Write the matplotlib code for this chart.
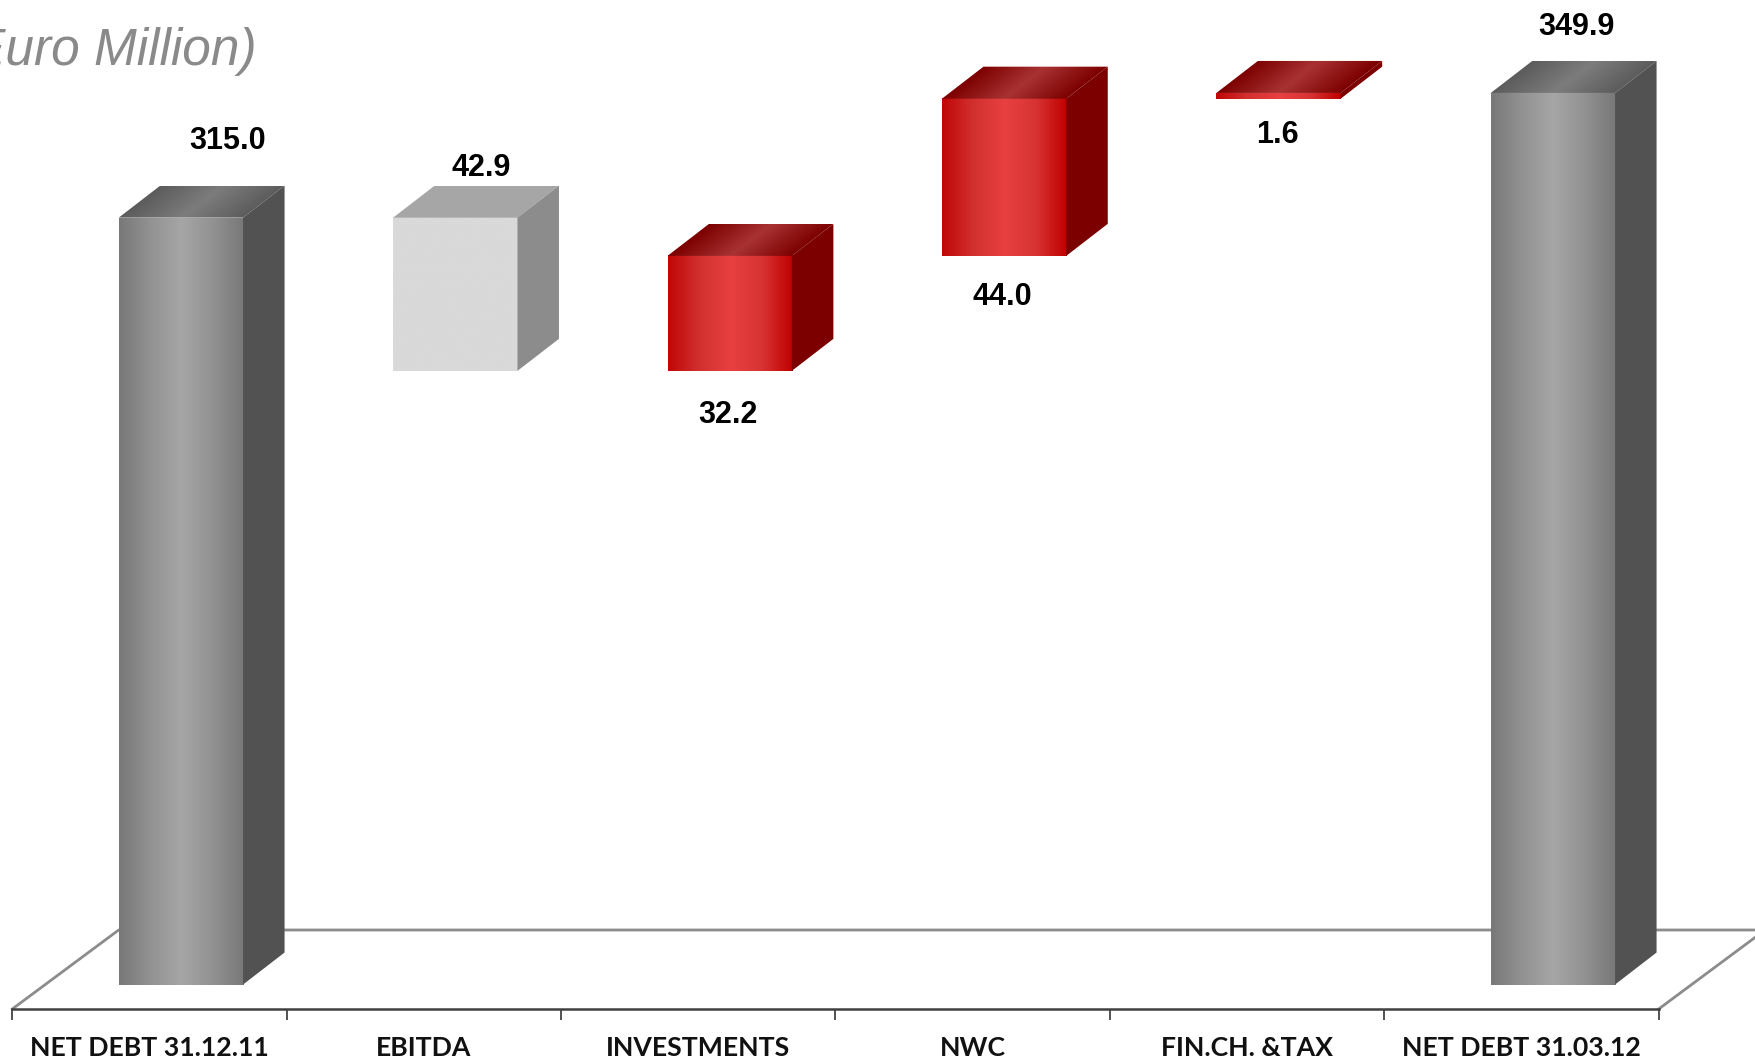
import numpy as np
import matplotlib
matplotlib.use("Agg")
import matplotlib.pyplot as plt
from matplotlib.colors import LinearSegmentedColormap
from matplotlib.patches import Polygon

categories = ["NET DEBT 31.12.11", "EBITDA", "INVESTMENTS", "NWC", "FIN.CH. &TAX", "NET DEBT 31.03.12"]
values = [315.0, 42.9, 32.2, 44.0, 1.6, 349.9]
kinds = ["total", "down", "up", "up", "up", "total"]
value_labels = ["315.0", "42.9", "32.2", "44.0", "1.6", "349.9"]

# axis range and 3d look
base = 100.3
fig_w, fig_h = 1756, 1062
ax_left, ax_right, ax_bottom = 12.3, 1658.7, 1009
px_per_cat = (ax_right - ax_left) / 6
px_per_unit = 3.572
ymin = 100 - (ax_bottom - 985.6) / px_per_unit
ymax = ymin + ax_bottom / px_per_unit
bar_off = 0.388
bar_w = 0.453
depth_x = 41.5 / px_per_cat
depth_y = 32 / px_per_unit
floor_x = 106.4 / px_per_cat
floor_y = 79 / px_per_unit

# label offset from the middle of the front face, pixels
label_dx = [47, 26, -2, -2, -1, 24]
label_dy = [77, 50, -44, -41, -36, 66]

grey_front = LinearSegmentedColormap.from_list("gf", ["#787878", "#929292", "#a6a6a6", "#929292", "#787878"])
grey_top = LinearSegmentedColormap.from_list("gt", ["#5c5c5c", "#7c7c7c", "#5c5c5c"])
red_front = LinearSegmentedColormap.from_list("rf", ["#c00606", "#d23030", "#e84040", "#d83434", "#c00000"])
red_top = LinearSegmentedColormap.from_list("rt", ["#7d0000", "#a83232", "#7d0000"])
light_front = LinearSegmentedColormap.from_list("lf", ["#d9d9d9", "#d9d9d9"])
light_top = LinearSegmentedColormap.from_list("lt", ["#a6a6a6", "#a6a6a6"])
styles = {
    "total": (grey_front, grey_top, "#525252"),
    "down": (light_front, light_top, "#8c8c8c"),
    "up": (red_front, red_top, "#7d0000"),
}

plt.rcParams["font.family"] = ["Liberation Sans", "DejaVu Sans"]
fig = plt.figure(figsize=(fig_w / 100, fig_h / 100), dpi=100)
ax = fig.add_axes([ax_left / fig_w, 1 - ax_bottom / fig_h, (ax_right - ax_left) / fig_w, ax_bottom / fig_h])
ax.patch.set_alpha(0)


def front_face(x0, x1, y0, y1, cmap):
    ramp = np.linspace(0, 1, 256).reshape(1, -1)
    ax.imshow(ramp, cmap=cmap, extent=[x0, x1, y0, y1], aspect="auto", zorder=3, interpolation="bilinear")


def top_face(x0, x1, y0, cmap):
    # gradient follows the shear of the top face
    corners = [(x0, y0), (x1, y0), (x1 + depth_x, y0 + depth_y), (x0 + depth_x, y0 + depth_y)]
    xs = np.linspace(x0, x1 + depth_x, 300)
    ts = np.linspace(1, 0, 60)
    xx, tt = np.meshgrid(xs, ts)
    shade = np.clip((xx - x0 - depth_x * tt) / (x1 - x0), 0, 1)
    im = ax.imshow(shade, cmap=cmap, vmin=0, vmax=1, extent=[x0, x1 + depth_x, y0, y0 + depth_y],
                   aspect="auto", zorder=3, interpolation="bilinear")
    poly = Polygon(corners, transform=ax.transData, facecolor="none", edgecolor="none")
    ax.add_patch(poly)
    im.set_clip_path(poly)


# floor
floor_top = ymin + floor_y
ax.plot([0, floor_x, 6 + floor_x], [ymin, floor_top, floor_top], color="#8c8c8c", lw=2, clip_on=False, zorder=1)
ax.plot([6, 6 + floor_x], [ymin, floor_top], color="#8c8c8c", lw=2, clip_on=False, zorder=1)

level = 0
for i, (val, kind) in enumerate(zip(values, kinds)):
    if kind == "total":
        low, high = base, val
        level = val
    elif kind == "down":
        low, high = level - val, level
        level = low
    else:
        low, high = level, level + val
        level = high

    front, top, side = styles[kind]
    x0 = i + bar_off
    x1 = x0 + bar_w
    front_face(x0, x1, low, high, front)
    top_face(x0, x1, high, top)
    ax.add_patch(Polygon([(x1, low), (x1 + depth_x, low + depth_y), (x1 + depth_x, high + depth_y), (x1, high)],
                         facecolor=side, edgecolor="none", zorder=3))

    anchor = high if label_dy[i] > 0 else low
    ax.annotate(value_labels[i], ((x0 + x1) / 2, anchor), xytext=(label_dx[i], label_dy[i]),
                textcoords="offset pixels", ha="center", va="center",
                fontsize=22, fontweight="bold", color="black", zorder=5, annotation_clip=False)

ax.set_xlim(0, 6)
ax.set_ylim(ymin, ymax)
ax.set_xticks(range(7))
ax.set_xticklabels([])
ax.set_xticks(np.arange(6) + 0.5, categories, minor=True, fontfamily="Lato", fontweight="bold", fontsize=19.2)
ax.tick_params(axis="x", which="major", length=8, width=1.2, color="#333333")
ax.tick_params(axis="x", which="minor", length=0, pad=19.5, labelcolor="#111111")
ax.set_yticks([])
for s in ["top", "left", "right"]:
    ax.spines[s].set_visible(False)
ax.spines["bottom"].set_color("#404040")
ax.spines["bottom"].set_linewidth(1.8)

fig.text(257 / fig_w, 1 - 65 / fig_h, "(Euro Million)", ha="right", va="baseline", fontsize=37,
         style="italic", color="#8a8a8a")

fig.savefig("out.png", dpi=100, facecolor="white")
